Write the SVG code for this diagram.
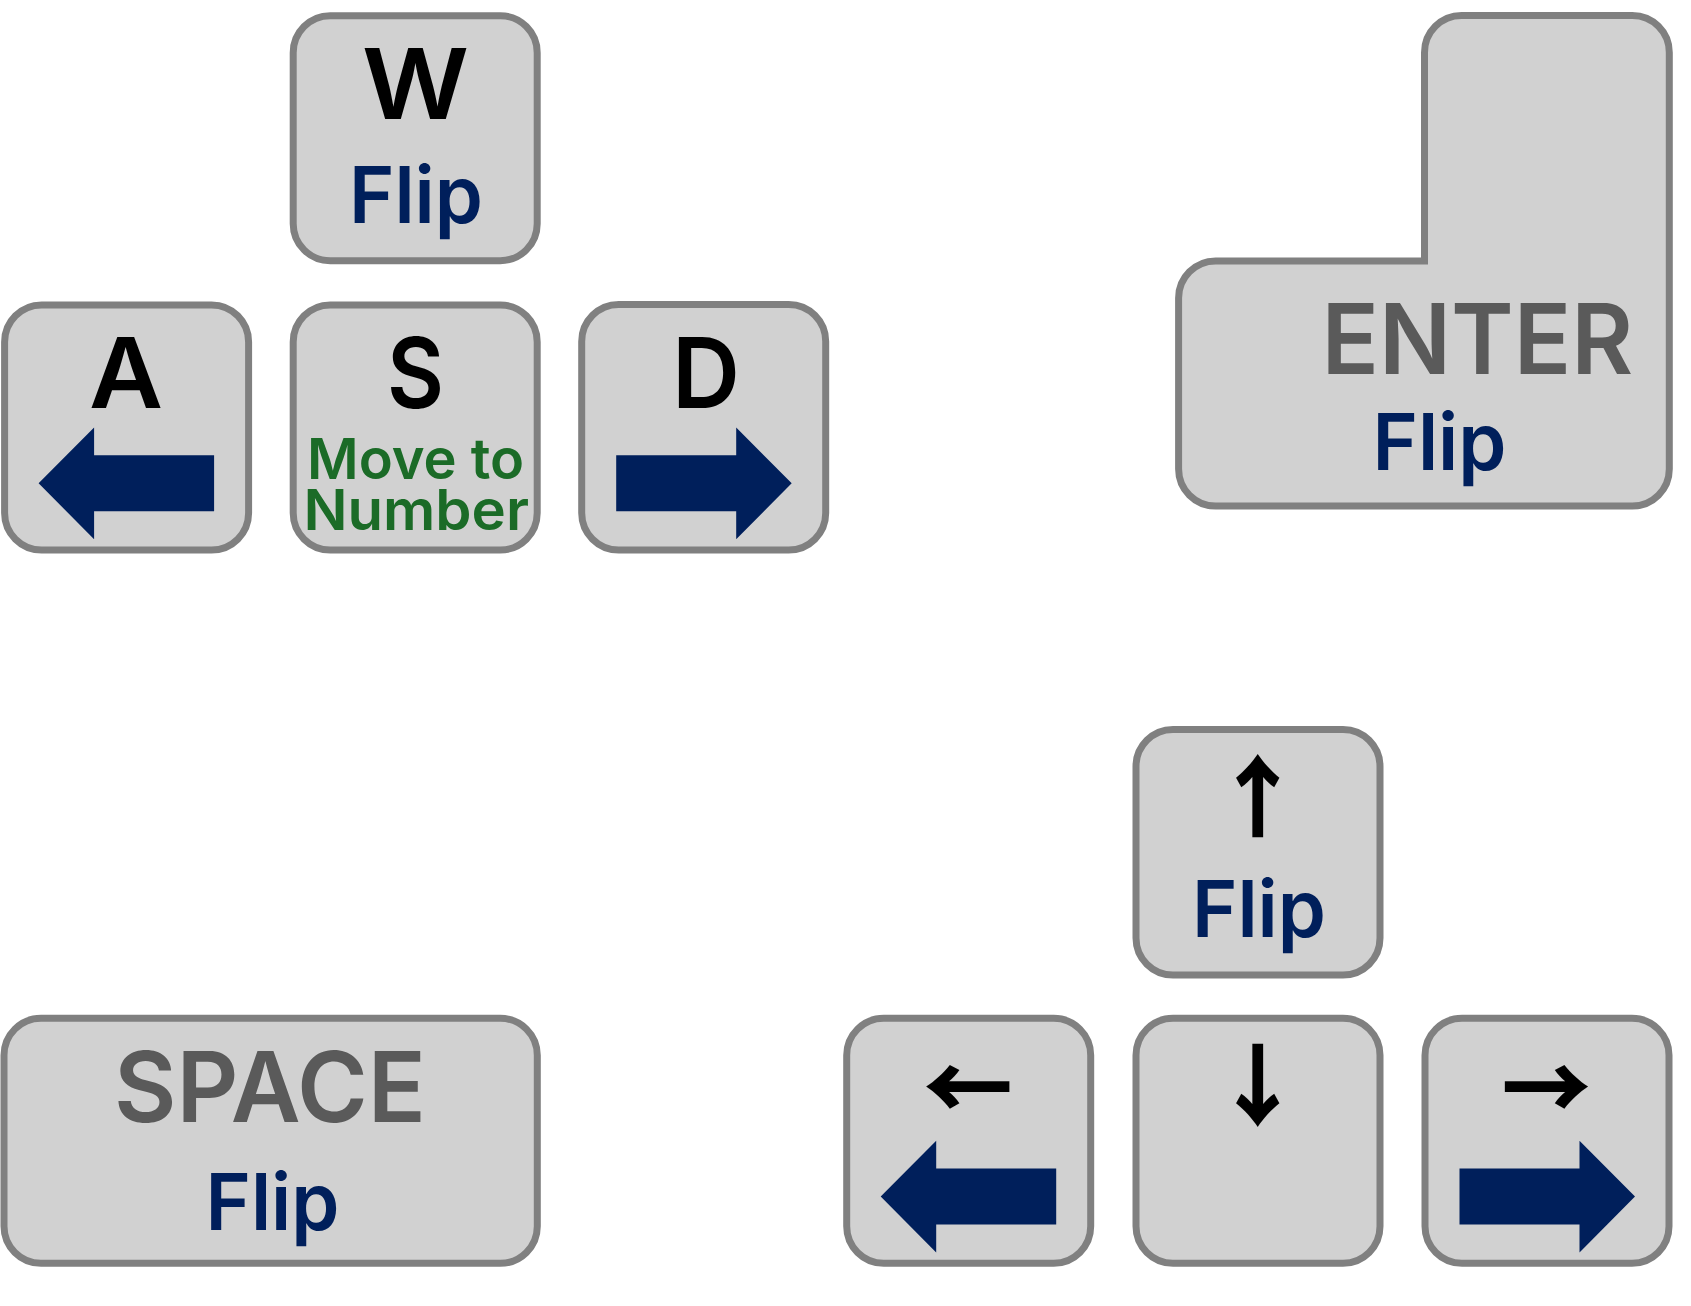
<svg xmlns="http://www.w3.org/2000/svg" width="1691" height="1306" viewBox="0 0 1691 1306">
<style>
.key{fill:#d1d1d1;stroke:#808080;stroke-width:7}
.t{font-family:"Inter","Open Sans","Liberation Sans",sans-serif;font-weight:600;text-anchor:middle}
.big{font-size:98px}
.k{fill:#000000}
.g{fill:#5a5a5a}
.flip{font-size:79px;fill:#001f5b}
.grn{font-size:56px;fill:#1b6b27}
.sym{font-family:"Noto Sans CJK SC","DejaVu Sans",sans-serif;font-weight:900;font-size:90px;fill:#000000;text-anchor:middle}
.nav{fill:#001f5b}
</style>
<defs>
<path id="arrL" class="nav" d="M34,178.3 L89.5,122.5 V150.3 H209.5 V206.2 H89.5 V234.2 Z"/>
<path id="arrR" class="nav" d="M210,178.3 L154.5,122.5 V150.3 H34.5 V206.2 H154.5 V234.2 Z"/>
</defs>
<rect width="1691" height="1306" fill="#ffffff"/>

<g id="key-w">
<rect class="key" x="293.2" y="15.7" width="244" height="245" rx="37"/>
<text class="t big k" x="415.5" y="118.6" textLength="107" lengthAdjust="spacingAndGlyphs">W</text>
<text class="t flip" x="416" y="222.7" textLength="134" lengthAdjust="spacingAndGlyphs">Flip</text>
</g>

<g id="key-a">
<rect class="key" x="4.6" y="305" width="244" height="245" rx="37"/>
<text class="t big k" x="126" y="408" textLength="74" lengthAdjust="spacingAndGlyphs">A</text>
<use href="#arrL" x="4.6" y="305"/>
</g>

<g id="key-s">
<rect class="key" x="293.2" y="305" width="244" height="245" rx="37"/>
<text class="t big k" x="415.5" y="408" textLength="57" lengthAdjust="spacingAndGlyphs">S</text>
<text class="t grn" x="415.5" y="479.2" textLength="217" lengthAdjust="spacingAndGlyphs">Move to</text>
<text class="t grn" x="416.2" y="530" textLength="225.5" lengthAdjust="spacingAndGlyphs">Number</text>
</g>

<g id="key-d">
<rect class="key" x="581.7" y="304.5" width="244" height="245.5" rx="37"/>
<text class="t big k" x="706" y="407.7" textLength="68" lengthAdjust="spacingAndGlyphs">D</text>
<use href="#arrR" x="581.7" y="305"/>
</g>

<g id="key-enter">
<path class="key" d="M1461.5,15.5 H1632.3 A37,37 0 0 1 1669.3,52.5 V469 A37,37 0 0 1 1632.3,506 H1215.6 A37,37 0 0 1 1178.6,469 V298 A37,37 0 0 1 1215.6,261 H1424.5 V52.5 A37,37 0 0 1 1461.5,15.5 Z"/>
<text class="t big g" x="1477.3" y="373.5" textLength="311.6" lengthAdjust="spacingAndGlyphs">ENTER</text>
<text class="t flip" x="1439.5" y="470" textLength="134" lengthAdjust="spacingAndGlyphs">Flip</text>
</g>

<g id="key-space">
<rect class="key" x="4" y="1018.3" width="533.3" height="245" rx="37"/>
<text class="t big g" x="270" y="1122.1" textLength="312" lengthAdjust="spacingAndGlyphs">SPACE</text>
<text class="t flip" x="272.5" y="1230" textLength="134" lengthAdjust="spacingAndGlyphs">Flip</text>
</g>

<g id="key-up">
<rect class="key" x="1136" y="729.5" width="244" height="245.5" rx="37"/>
<text class="sym" x="1257.7" y="830">↑</text>
<text class="t flip" x="1259" y="936.7" textLength="134" lengthAdjust="spacingAndGlyphs">Flip</text>
</g>

<g id="key-left">
<rect class="key" x="846.7" y="1018.3" width="244" height="245" rx="37"/>
<text class="sym" x="968" y="1120.5">←</text>
<use href="#arrL" x="846.7" y="1018.3"/>
</g>

<g id="key-down">
<rect class="key" x="1136" y="1018.3" width="244" height="245" rx="37"/>
<text class="sym" x="1257.7" y="1119">↓</text>
</g>

<g id="key-right">
<rect class="key" x="1425" y="1018.3" width="244" height="245" rx="37"/>
<text class="sym" x="1546.3" y="1120.5">→</text>
<use href="#arrR" x="1425" y="1018.3"/>
</g>
</svg>
